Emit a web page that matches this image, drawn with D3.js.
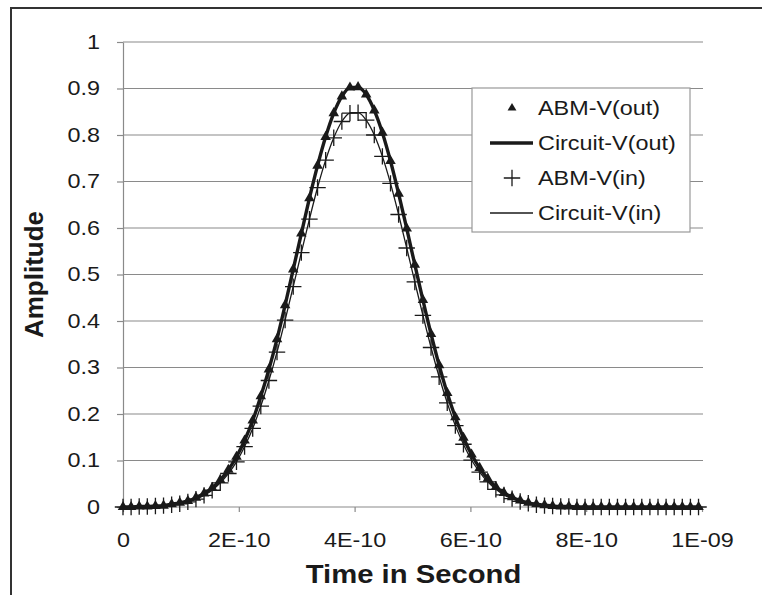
<!DOCTYPE html>
<html>
<head>
<meta charset="utf-8">
<script src="https://cdn.jsdelivr.net/npm/d3@7"></script>
<style>
  html, body { margin: 0; padding: 0; background: #fff; }
  svg { display: block; }
</style>
</head>
<body>
<div id="chart"></div>
<script>
// time in units of 1E-10 s
const times = [0, 0.14, 0.28, 0.42, 0.56, 0.70, 0.84, 0.98, 1.12, 1.26, 1.40, 1.54, 1.68, 1.82, 1.96, 2.10, 2.24, 2.38,
  2.52, 2.66, 2.80, 2.94, 3.08, 3.22, 3.36, 3.50, 3.64, 3.78, 3.92, 4.06, 4.20, 4.34, 4.48, 4.62, 4.76, 4.90,
  5.04, 5.18, 5.32, 5.46, 5.60, 5.74, 5.88, 6.02, 6.16, 6.30, 6.44, 6.58, 6.72, 6.86, 7.00, 7.14, 7.28, 7.42,
  7.56, 7.70, 7.84, 7.98, 8.12, 8.26, 8.40, 8.54, 8.68, 8.82, 8.96, 9.10, 9.24, 9.38, 9.52, 9.66, 9.80, 9.94];

const vOut = [0.000, 0.000, 0.001, 0.001, 0.002, 0.003, 0.006, 0.009, 0.013, 0.020,
  0.029, 0.041, 0.058, 0.080, 0.108, 0.143, 0.186, 0.238, 0.296, 0.361,
  0.434, 0.511, 0.588, 0.664, 0.734, 0.796, 0.847, 0.883, 0.902, 0.903,
  0.887, 0.853, 0.805, 0.744, 0.674, 0.599, 0.521, 0.445, 0.372, 0.305,
  0.245, 0.193, 0.149, 0.113, 0.084, 0.061, 0.043, 0.030, 0.021, 0.014,
  0.009, 0.006, 0.004, 0.002, 0.001, 0.001, 0, 0, 0, 0,
  0, 0, 0, 0, 0, 0, 0, 0, 0, 0, 0, 0];

const vIn = [0.000, 0.000, 0.001, 0.001, 0.002, 0.003, 0.005, 0.007, 0.011, 0.017,
  0.025, 0.036, 0.052, 0.072, 0.097, 0.130, 0.169, 0.217, 0.272, 0.333,
  0.402, 0.474, 0.547, 0.619, 0.687, 0.746, 0.794, 0.829, 0.847, 0.848,
  0.832, 0.800, 0.754, 0.696, 0.629, 0.557, 0.484, 0.412, 0.343, 0.280,
  0.224, 0.175, 0.135, 0.101, 0.075, 0.054, 0.038, 0.026, 0.018, 0.012,
  0.008, 0.005, 0.003, 0.002, 0.001, 0.001, 0, 0, 0, 0,
  0, 0, 0, 0, 0, 0, 0, 0, 0, 0, 0, 0];

const xTicks = [0, 2, 4, 6, 8, 10];
const xTickLabels = ["0", "2E-10", "4E-10", "6E-10", "8E-10", "1E-09"];
const yTicks = [0, 0.1, 0.2, 0.3, 0.4, 0.5, 0.6, 0.7, 0.8, 0.9, 1];
const legendNames = ["ABM-V(out)", "Circuit-V(out)", "ABM-V(in)", "Circuit-V(in)"];

const W = 762, H = 595;
const FONT = "'Liberation Sans', Arial, sans-serif";
const SX = 1.17; // the picture is a bit wider than tall
const grid = "#8a8a8a", ink = "#1a1a1a";

const svg = d3.select("#chart").append("svg").attr("width", W).attr("height", H);
svg.append("rect").attr("width", W).attr("height", H).attr("fill", "#fff");
svg.append("rect").attr("x", 11).attr("y", 8).attr("width", 820).attr("height", 700)
  .attr("fill", "#fff").attr("stroke", "#333").attr("stroke-width", 2);

const m = { left: 123, right: 702, top: 42, bottom: 507 };
const x = d3.scaleLinear().domain([0, 10]).range([m.left, m.right]);
const y = d3.scaleLinear().domain([0, 1]).range([m.bottom, m.top]);

// gridlines
svg.append("g").selectAll("line").data(yTicks.filter(d => d > 0)).join("line")
  .attr("x1", m.left).attr("x2", m.right + 1).attr("y1", d => y(d)).attr("y2", d => y(d))
  .attr("stroke", grid).attr("stroke-width", 1.2);

// axes
const yAxis = svg.append("g").attr("transform", `translate(${m.left},0)`)
  .call(d3.axisLeft(y).tickValues(yTicks).tickFormat(d3.format("")).tickSize(6).tickPadding(13.7).tickSizeOuter(0));
const xAxis = svg.append("g").attr("transform", `translate(0,${m.bottom})`)
  .call(d3.axisBottom(x).tickValues(xTicks).tickFormat((d, i) => xTickLabels[i]).tickSize(5).tickPadding(21).tickSizeOuter(0));
[yAxis, xAxis].forEach(a => {
  a.select(".domain").attr("stroke", grid).attr("stroke-width", 1.2);
  a.selectAll(".tick line").attr("stroke", grid).attr("stroke-width", 1.2);
  a.selectAll(".tick text").attr("fill", ink).style("font-family", FONT).style("font-size", "20px")
    .attr("transform", `scale(${SX},1)`);
});
xAxis.select(".domain").attr("d", `M${m.left},0H${m.right + 1}`);

// axis titles
svg.append("text").attr("transform", `translate(${(m.left + m.right) / 2 + 1},583) scale(${SX},1)`)
  .attr("text-anchor", "middle").style("font-family", FONT).style("font-size", "25px").style("font-weight", "bold")
  .attr("fill", ink).text("Time in Second");
svg.append("text").attr("transform", `translate(43,${(m.top + m.bottom) / 2}) rotate(-90)`)
  .attr("text-anchor", "middle").style("font-family", FONT).style("font-size", "26px").style("font-weight", "bold")
  .attr("fill", ink).text("Amplitude");

// series
const pts = (vals) => times.map((t, i) => [t, vals[i]]);
const line = d3.line().x(d => x(d[0])).y(d => y(d[1])).curve(d3.curveMonotoneX);

svg.append("path").attr("d", line(pts(vOut))).attr("fill", "none").attr("stroke", ink).attr("stroke-width", 3.4);
svg.append("path").attr("d", line(pts(vIn))).attr("fill", "none").attr("stroke", ink).attr("stroke-width", 1.3);

const tri = d3.symbol(d3.symbolTriangle, 48);
const plusType = d3.symbolPlus || { draw(c, s) { const r = Math.sqrt(s) / 2; c.moveTo(-r, 0); c.lineTo(r, 0); c.moveTo(0, -r); c.lineTo(0, r); } };
const plus = d3.symbol(plusType, 90);

svg.append("g").selectAll("path").data(pts(vOut)).join("path")
  .attr("transform", d => `translate(${x(d[0])},${y(d[1])})`).attr("d", tri).attr("fill", ink);
svg.append("g").selectAll("path").data(pts(vIn)).join("path")
  .attr("transform", d => `translate(${x(d[0])},${y(d[1])})`).attr("d", plus)
  .attr("fill", "none").attr("stroke", ink).attr("stroke-width", 1.3);

// legend
const lg = svg.append("g").attr("transform", "translate(472,88)");
lg.append("rect").attr("width", 218).attr("height", 144).attr("fill", "#fff").attr("stroke", "#999").attr("stroke-width", 1.2);
const item = lg.selectAll("g").data(legendNames).join("g").attr("transform", (d, i) => `translate(0,${20 + i * 35})`);
item.append("text").attr("transform", `translate(66,7) scale(${SX},1)`).style("font-family", FONT).style("font-size", "20px")
  .attr("fill", ink).text(d => d);
item.filter((d, i) => i === 0).append("path").attr("transform", "translate(40,0)").attr("d", d3.symbol(d3.symbolTriangle, 34)).attr("fill", ink);
item.filter((d, i) => i === 2).append("path").attr("transform", "translate(40,0)").attr("d", plus)
  .attr("fill", "none").attr("stroke", ink).attr("stroke-width", 1.3);
item.filter((d, i) => i === 1 || i === 3).append("line").attr("x1", 18).attr("x2", 61)
  .attr("stroke", ink).attr("stroke-width", (d, i) => d === legendNames[1] ? 3.4 : 1.3);
</script>
</body>
</html>
